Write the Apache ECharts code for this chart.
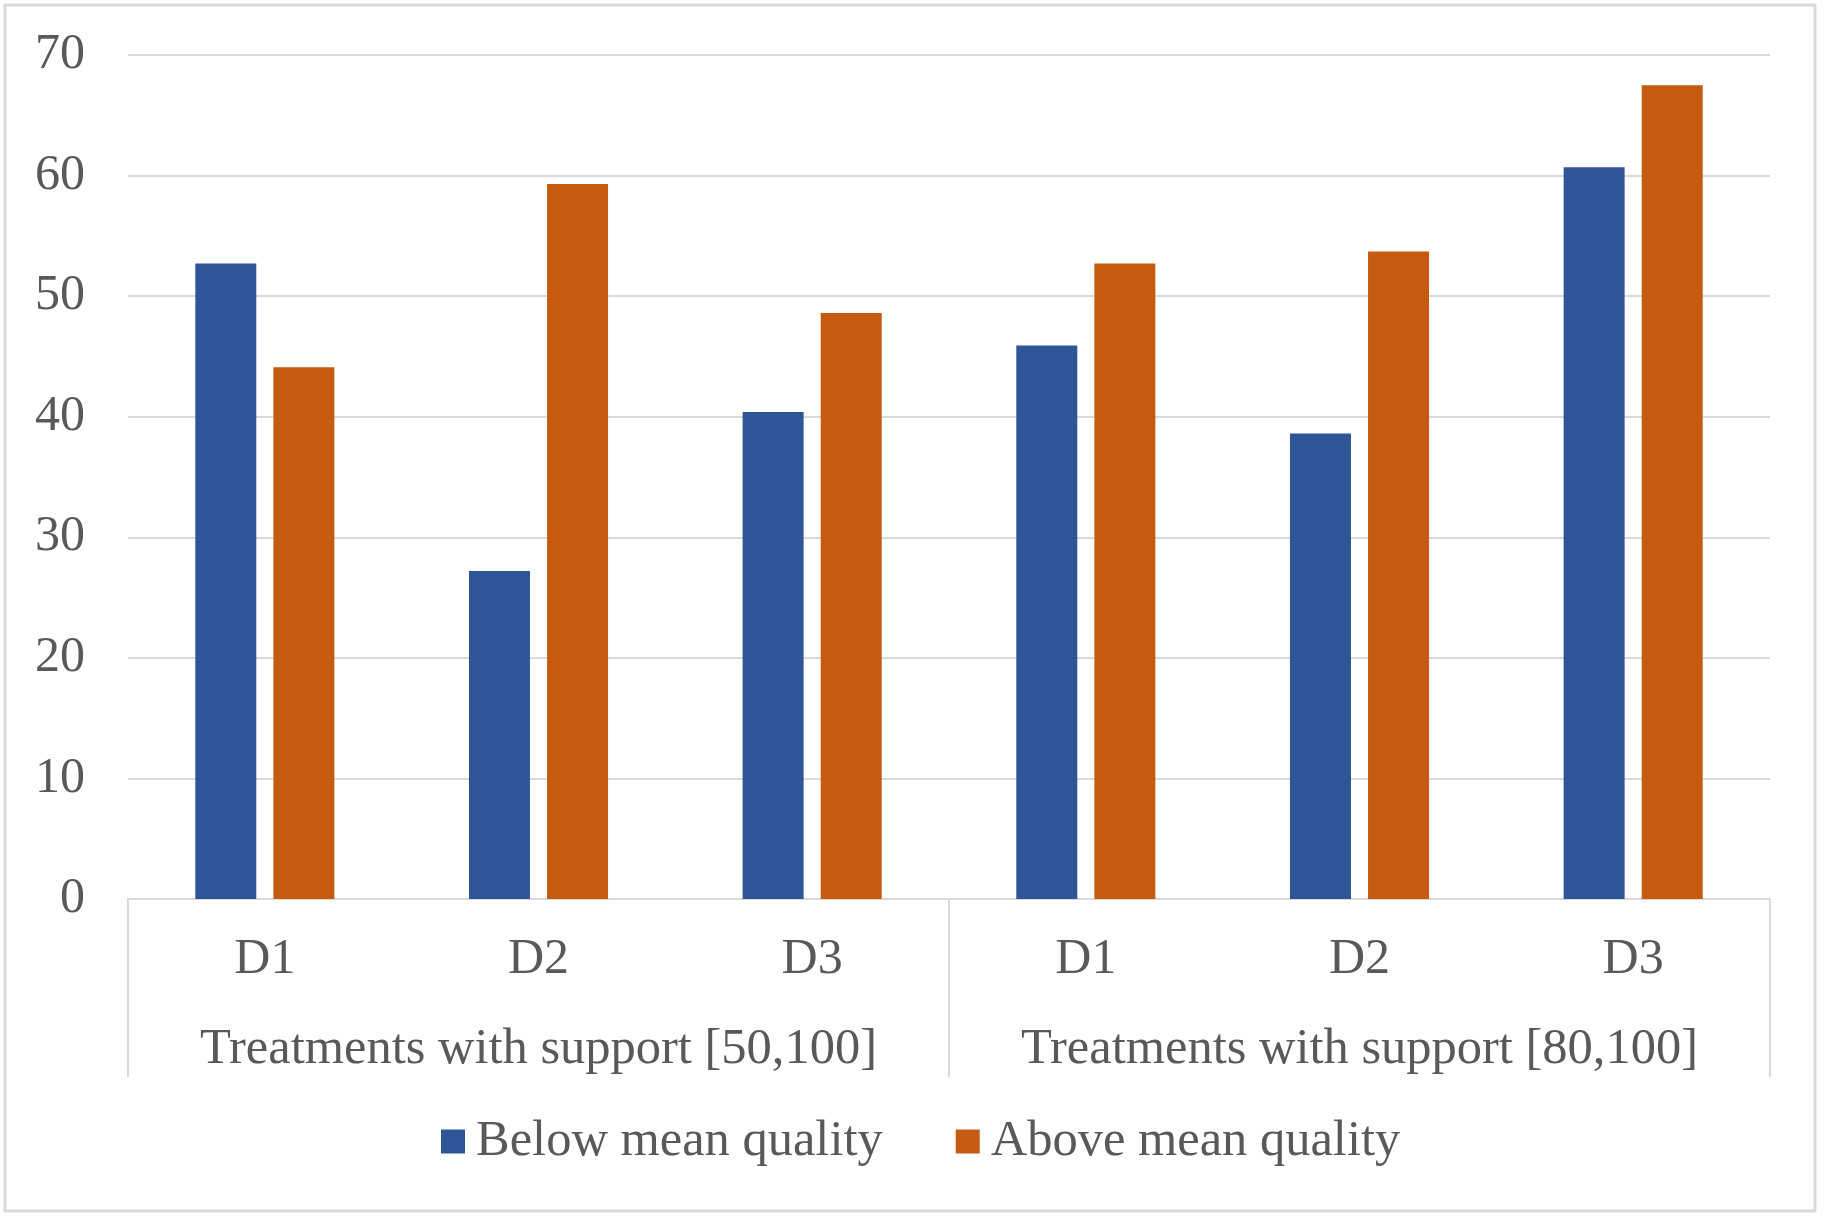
<!DOCTYPE html>
<html>
<head>
<meta charset="utf-8">
<script src="https://cdn.jsdelivr.net/npm/echarts@6/dist/echarts.min.js"></script>
<style>
  html, body { margin: 0; padding: 0; background: #ffffff; }
  #chart { width: 1828px; height: 1219px; }
</style>
</head>
<body>
<div id="chart"></div>
<script>
const categories = ['D1', 'D2', 'D3', 'D1', 'D2', 'D3'];
const groupLabels = ['Treatments with support [50,100]', 'Treatments with support [80,100]'];
const seriesNames = ['Below mean quality', 'Above mean quality'];
const belowValues = [52.7, 27.2, 40.4, 45.9, 38.6, 60.7];
const aboveValues = [44.1, 59.3, 48.6, 52.7, 53.7, 67.5];
const yTicks = { min: 0, max: 70, interval: 10 };

const textColor = '#595959';
const lineColor = '#d9d9d9';
const fontFamily = '"Liberation Serif", "Times New Roman", serif';

const chart = echarts.init(document.getElementById('chart'), null, { renderer: 'canvas' });

chart.setOption({
  backgroundColor: '#ffffff',
  animation: false,
  textStyle: { fontFamily: fontFamily, color: textColor },
  graphic: [{
    type: 'rect',
    shape: { x: 5, y: 5, width: 1810, height: 1206 },
    style: { fill: 'none', stroke: lineColor, lineWidth: 3 },
    silent: true
  }],
  legend: {
    data: seriesNames,
    bottom: 47,
    left: 436,
    itemWidth: 24,
    itemHeight: 24,
    itemGap: 73,
    icon: 'rect',
    textStyle: { fontSize: 50.5, color: textColor, fontFamily: fontFamily, padding: [0, 0, 0, 6] }
  },
  grid: { left: 128, right: 58, top: 55, bottom: 320, containLabel: false },
  xAxis: [{
    type: 'category',
    data: categories,
    position: 'bottom',
    axisLine: { show: true, lineStyle: { color: lineColor, width: 2 } },
    axisTick: { show: false },
    axisLabel: { fontSize: 50, color: textColor, fontFamily: fontFamily, margin: 36, interval: 0 }
  }, {
    type: 'category',
    data: groupLabels,
    position: 'bottom',
    axisLine: { show: true, lineStyle: { color: lineColor, width: 2 } },
    axisTick: { show: true, length: 178, interval: 0, lineStyle: { color: lineColor, width: 2 } },
    axisLabel: { fontSize: 50.5, color: textColor, fontFamily: fontFamily, margin: 125, interval: 0 }
  }],
  yAxis: {
    type: 'value',
    min: yTicks.min,
    max: yTicks.max,
    interval: yTicks.interval,
    axisLine: { show: false },
    axisTick: { show: false },
    splitLine: { show: true, lineStyle: { color: lineColor, width: 2 } },
    axisLabel: { fontSize: 50, color: textColor, fontFamily: fontFamily, margin: 43 }
  },
  series: [{
    name: seriesNames[0],
    type: 'bar',
    xAxisIndex: 0,
    data: belowValues,
    barWidth: 61,
    barGap: '28%',
    itemStyle: { color: '#2F5597' }
  }, {
    name: seriesNames[1],
    type: 'bar',
    xAxisIndex: 0,
    data: aboveValues,
    barWidth: 61,
    barGap: '28%',
    itemStyle: { color: '#C55A11' }
  }]
});
</script>
</body>
</html>
